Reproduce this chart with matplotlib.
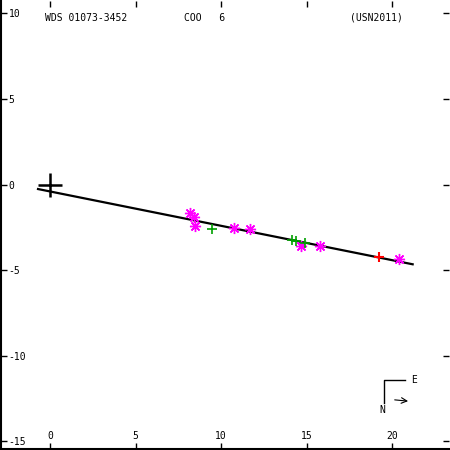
import numpy as np
import matplotlib
matplotlib.use("Agg")
import matplotlib.pyplot as plt

plt.rcParams['axes.unicode_minus'] = False
plt.rcParams['font.family'] = 'DejaVu Sans Mono'

# measurements (x, y in arcsec)
star_x = [8.19, 8.44, 8.50, 10.78, 11.70, 14.68, 15.81, 20.43]
star_y = [-1.67, -1.91, -2.39, -2.52, -2.57, -3.57, -3.57, -4.37]
plus_x = [9.47, 14.13, 14.37, 14.91]
plus_y = [-2.58, -3.21, -3.28, -3.40]
red_x = [19.26]
red_y = [-4.22]

# linear fit
fit_x = [-0.7, 21.2]
fit_slope = -0.2007
fit_icpt = -0.40

xticks = [0, 5, 10, 15, 20]
yticks = [10, 5, 0, -5, -10, -15]

fig = plt.figure(figsize=(4.5, 4.5), dpi=100)
ax = fig.add_axes([0.002, 0.002, 0.996, 0.996])
ax.set_xlim(-2.87, 23.33)
ax.set_ylim(-15.45, 10.73)

fx = np.array(fit_x)
ax.plot(fx, fit_slope * fx + fit_icpt, color='black', lw=1.6, zorder=2)
ax.plot([0], [0], marker='+', color='black', ms=17, mew=1.8, zorder=3)

ax.plot(star_x, star_y, ls='none', marker=(8, 2, 0), color='magenta', ms=8, mew=1.0, zorder=4)
ax.plot(plus_x, plus_y, ls='none', marker='+', color='#00a000', ms=7, mew=1.2, zorder=4)
ax.plot(red_x, red_y, ls='none', marker='+', color='red', ms=7, mew=1.5, zorder=4)

for s in ['top', 'right']:
    ax.spines[s].set_visible(False)
for s in ['left', 'bottom']:
    ax.spines[s].set_linewidth(1.5)

ax.set_xticks(xticks)
ax.set_yticks(yticks)
ax.set_xticklabels([str(t) for t in xticks])
ax.set_yticklabels([str(t) for t in yticks])
ax.tick_params(axis='both', direction='in', length=4, width=1, top=True, right=True,
               labelsize=7)
ax.tick_params(axis='x', pad=-6)
ax.tick_params(axis='y', pad=-5.5)
for lab in ax.get_yticklabels():
    lab.set_horizontalalignment('left')
for lab in ax.get_xticklabels():
    lab.set_verticalalignment('bottom')

fig.text(0.1, 0.96, 'WDS 01073-3452', fontsize=7, va='center')
fig.text(0.41, 0.96, 'COO   6', fontsize=7, va='center')
fig.text(0.778, 0.96, '(USN2011)', fontsize=7, va='center')

# orientation marker
fig.lines.append(plt.Line2D([0.853, 0.853, 0.9], [0.104, 0.156, 0.156],
                            transform=fig.transFigure, color='black', lw=1))
fig.text(0.913, 0.156, 'E', fontsize=7, va='center')
fig.text(0.842, 0.089, 'N', fontsize=7, va='center')
ax.annotate('', xy=(0.913, 0.108), xytext=(0.871, 0.112), xycoords='figure fraction',
            arrowprops=dict(arrowstyle='->', lw=0.8, color='black'))

fig.savefig('out.png', dpi=100)
